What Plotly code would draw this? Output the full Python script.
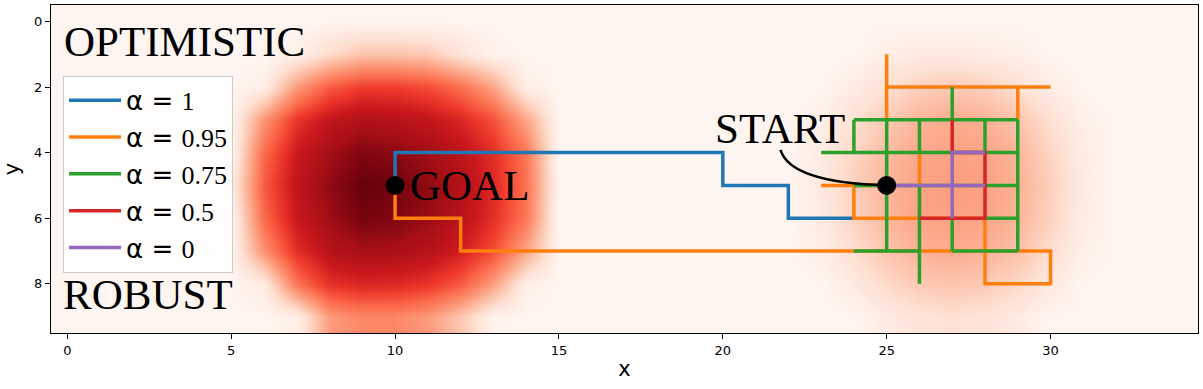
import plotly.graph_objects as go
import plotly.express as px

# risk map (rows = y, cols = x)
grid_x = list(range(35))
grid_y = list(range(10))
risk = [
    [0] * 35,
    [0, 0, 0, 0, 0, 0, 0, .03, .14, .22, .22, .2, .1, .02, 0, 0, 0, 0, 0, 0, 0, 0, 0, 0, 0, .04, .06, .06, .05, .03, 0, 0, 0, 0, 0],
    [0, 0, 0, 0, 0, 0, .04, .35, .54, .62, .62, .58, .48, .32, .04, 0, 0, 0, 0, 0, 0, 0, 0, 0, .05, .12, .18, .2, .18, .12, .05, 0, 0, 0, 0],
    [0, 0, 0, 0, 0, 0, .37, .65, .78, .84, .82, .78, .7, .57, .32, 0, 0, 0, 0, 0, 0, 0, 0, .03, .12, .2, .27, .3, .28, .22, .12, .03, 0, 0, 0],
    [0, 0, 0, 0, 0, 0, .5, .75, .88, .95, .93, .88, .8, .67, .46, 0, 0, 0, 0, 0, 0, 0, 0, .06, .16, .25, .31, .33, .32, .27, .16, .05, 0, 0, 0],
    [0, 0, 0, 0, 0, .05, .54, .79, .92, 1.0, .98, .92, .83, .69, .48, 0, 0, 0, 0, 0, 0, 0, 0, .07, .18, .27, .32, .34, .33, .28, .18, .06, 0, 0, 0],
    [0, 0, 0, 0, 0, 0, .5, .76, .89, .97, .95, .9, .81, .67, .46, 0, 0, 0, 0, 0, 0, 0, 0, .06, .17, .26, .32, .33, .32, .27, .17, .05, 0, 0, 0],
    [0, 0, 0, 0, 0, 0, .38, .67, .82, .87, .86, .82, .73, .58, .32, 0, 0, 0, 0, 0, 0, 0, 0, .04, .13, .22, .28, .3, .28, .23, .13, .03, 0, 0, 0],
    [0, 0, 0, 0, 0, 0, .06, .47, .66, .7, .69, .65, .54, .34, .04, 0, 0, 0, 0, 0, 0, 0, 0, 0, .07, .15, .2, .22, .2, .15, .07, 0, 0, 0, 0],
    [0, 0, 0, 0, 0, 0, 0, .04, .35, .41, .41, .35, .21, .02, 0, 0, 0, 0, 0, 0, 0, 0, 0, 0, 0, .06, .1, .12, .1, .06, 0, 0, 0, 0, 0],
]

# paths per alpha (None = break between segments)
alpha_labels = ["1", "0.95", "0.75", "0.5", "0"]
alpha_colors = ["#1f77b4", "#ff7f0e", "#2ca02c", "#d62728", "#9467bd"]
path_x = [
    [10, 10, 20, 20, 22, 22, 24],
    [10, 10, 12, 12, 30, 30, 28, 28, 24, 24, 23, None, 24, 25, None, 26, 26, None,
     25, 25, None, 25, 30, None, 29, 29],
    [23, 29, None, 24, 29, None, 24, 24, None, 24, 29, None, 25, 25, None, 26, 26, None,
     26, 26, None, 27, 27, None, 27, 27, None, 28, 28, None, 29, 29, None, 24, 26, None,
     27, 29, None, 28, 29],
    [27, 27, 28, 28, 26],
    [25, 28, None, 27, 27, 28],
]
path_y = [
    [5, 4, 4, 5, 5, 6, 6],
    [5, 6, 6, 7, 7, 8, 8, 6, 6, 5, 5, None, 5, 5, None, 6, 4, None,
     1, 3, None, 2, 2, None, 2, 3],
    [4, 4, None, 3, 3, None, 3, 4, None, 5, 5, None, 3, 7, None, 3, 4, None,
     5, 8, None, 2, 3, None, 6, 7, None, 3, 4, None, 3, 7, None, 7, 7, None,
     7, 7, None, 6, 6],
    [3, 4, 4, 6, 6],
    [5, 5, None, 6, 4, 4],
]

goal = (10, 5)
start = (25, 5)
start_label = (21.76, 3.25)
arrow_tail = (21.76, 3.92)
arrow_ctrl = (22.06, 4.92)

serif = "Liberation Serif"

fig = go.Figure()
fig.add_trace(go.Heatmap(x=grid_x, y=grid_y, z=risk, colorscale=px.colors.sequential.Reds,
                         zmin=0, zmax=1, zsmooth="best", showscale=False, hoverinfo="skip"))

for lab, col, xs, ys in zip(alpha_labels, alpha_colors, path_x, path_y):
    name = '<span style="font-family:DejaVu Sans">α = </span>' + lab
    fig.add_trace(go.Scatter(x=xs, y=ys, mode="lines", line=dict(color=col, width=3.5),
                             name=name, connectgaps=False))

fig.add_trace(go.Scatter(x=[goal[0], start[0]], y=[goal[1], start[1]], mode="markers",
                         marker=dict(color="black", size=19), showlegend=False))

fig.add_shape(type="path", xref="x", yref="y",
              path=f"M {arrow_tail[0]},{arrow_tail[1]} Q {arrow_ctrl[0]},{arrow_ctrl[1]} {start[0]},{start[1]}",
              line=dict(color="black", width=2.5))

txt = dict(family=serif, size=43, color="black")
fig.add_annotation(x=10.4, y=5, text="GOAL", showarrow=False, xanchor="left", yanchor="middle", font=txt)
fig.add_annotation(x=start_label[0], y=start_label[1], text="START", showarrow=False,
                   xanchor="center", yanchor="middle", font=txt)
fig.add_annotation(x=-0.15, y=0.62, text="OPTIMISTIC", showarrow=False, xanchor="left", yanchor="middle", font=txt)
fig.add_annotation(x=-0.2, y=8.34, text="ROBUST", showarrow=False, xanchor="left", yanchor="middle", font=txt)

axis_common = dict(showgrid=False, zeroline=False, showline=True, linecolor="black", linewidth=1.3,
                   mirror=True, ticks="outside", ticklen=5, tickcolor="black", automargin=False,
                   tickfont=dict(family="DejaVu Sans", size=13, color="black"))

fig.update_layout(
    width=1203, height=389,
    margin=dict(l=51, r=5, t=5, b=56),
    paper_bgcolor="white", plot_bgcolor="white",
    xaxis=dict(range=[-0.5, 34.5], tickvals=[0, 5, 10, 15, 20, 25, 30],
               title=dict(text="x", font=dict(family="DejaVu Sans", size=21, color="black"), standoff=4),
               **axis_common),
    yaxis=dict(range=[9.5, -0.5], tickvals=[0, 2, 4, 6, 8],
               title=dict(text="y", font=dict(family="DejaVu Sans", size=21, color="black"), standoff=8),
               **axis_common),
    legend=dict(x=0.0105, y=0.784, xanchor="left", yanchor="top", itemwidth=52,
                bgcolor="rgba(255,255,255,0.85)", bordercolor="#cccccc", borderwidth=1,
                font=dict(family=serif, size=26, color="black")),
)

fig.write_html("out.html", config={"displayModeBar": False},
               post_script="document.body.style.margin='0';")
